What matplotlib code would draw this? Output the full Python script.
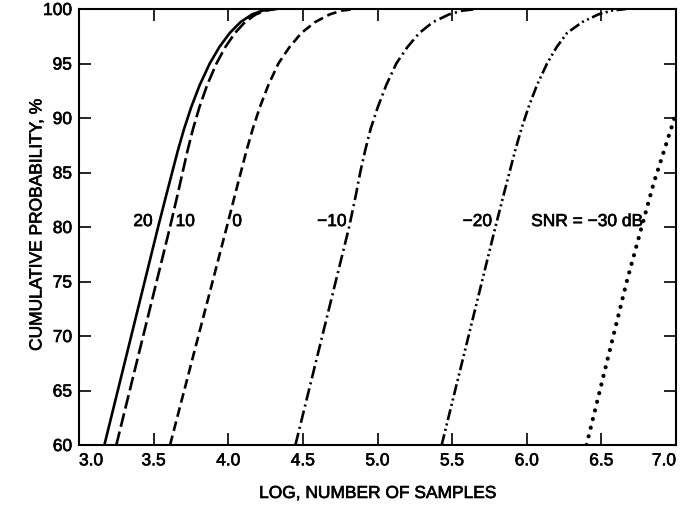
import numpy as np
import matplotlib
matplotlib.use('Agg')
import matplotlib.pyplot as plt
import matplotlib.patheffects as pe

# x = log(number of samples) where each curve crosses the y levels
prob = [60, 65, 70, 75, 80, 83, 85, 87, 89, 91, 93, 95, 96.5, 97.8, 98.8, 99.5, 99.85, 100]
snr_20 = [3.17, 3.26, 3.35, 3.44, 3.53, 3.586, 3.624, 3.662, 3.704, 3.752, 3.808, 3.876,
          3.94, 4.01, 4.082, 4.159, 4.229, 4.304]
snr_10 = [3.25, 3.34, 3.43, 3.52, 3.61, 3.661, 3.694, 3.727, 3.764, 3.807, 3.858, 3.921,
          3.98, 4.045, 4.112, 4.184, 4.249, 4.324]
snr_0 = [3.61, 3.705, 3.80, 3.895, 3.99, 4.046, 4.084, 4.122, 4.164, 4.212, 4.268, 4.336,
         4.41, 4.49, 4.582, 4.679, 4.759, 4.854]
snr_m10 = [4.45, 4.54, 4.63, 4.72, 4.81, 4.856, 4.884, 4.917, 4.954, 5.002, 5.058, 5.126,
           5.20, 5.28, 5.372, 5.479, 5.569, 5.664]
snr_m20 = [5.43, 5.52, 5.61, 5.70, 5.79, 5.846, 5.884, 5.922, 5.964, 6.012, 6.068, 6.136,
           6.20, 6.27, 6.372, 6.479, 6.569, 6.664]
prob_m30 = [60, 65, 70, 75, 80, 84, 87, 90]
snr_m30 = [6.40, 6.49, 6.58, 6.67, 6.77, 6.85, 6.92, 6.99]

xticks = [3.0, 3.5, 4.0, 4.5, 5.0, 5.5, 6.0, 6.5, 7.0]
yticks = [60, 65, 70, 75, 80, 85, 90, 95, 100]

plt.rcParams['font.family'] = ['Liberation Sans', 'DejaVu Sans']
plt.rcParams['lines.scale_dashes'] = False

fig = plt.figure(figsize=(6.8, 5.06), dpi=100)
ax = fig.add_axes([79/680, 60/506, 597/680, 436/506])

lw = 1.9
ax.plot(snr_20, prob, color='black', lw=lw, solid_capstyle='butt')
ax.plot(snr_10, prob, color='black', lw=lw, linestyle=(0, (10, 3.5)))
ax.plot(snr_0, prob, color='black', lw=lw, linestyle=(0, (7, 3.5)))
ax.plot(snr_m10, prob, color='black', lw=lw, linestyle=(0, (9, 3, 1.5, 3)))
ax.plot(snr_m20, prob, color='black', lw=lw, linestyle=(0, (8, 2.5, 1.5, 2.5, 1.5, 2.5)))
ax.plot(snr_m30, prob_m30, color='black', lw=3.0, linestyle=(0, (0.1, 6.3)),
        dash_capstyle='round')

# a thin stroke makes the type look like the medium weight of the scan
heavy = [pe.withStroke(linewidth=0.45, foreground='black')]

# curve labels
fs = 12.5
ax.text(3.493, 80.5, '20', ha='right', va='center', fontsize=fs, path_effects=heavy)
ax.text(3.647, 80.5, '10', ha='left', va='center', fontsize=fs, path_effects=heavy)
ax.text(4.027, 80.5, '0', ha='left', va='center', fontsize=fs, path_effects=heavy)
ax.text(4.793, 80.5, '\u221210', ha='right', va='center', fontsize=fs, path_effects=heavy)
ax.text(5.767, 80.5, '\u221220', ha='right', va='center', fontsize=fs, path_effects=heavy)
ax.text(6.78, 80.5, 'SNR = \u221230 dB', ha='right', va='center', fontsize=fs,
        path_effects=heavy)

ax.set_xlim(3.0, 7.0)
ax.set_ylim(60, 100)
ax.set_xticks(xticks)
ax.set_yticks(yticks)
ax.set_xticklabels(['%.1f' % v for v in xticks])
ax.set_yticklabels([str(v) for v in yticks])
ax.get_xticklabels()[0].set_ha('left')
ax.get_xticklabels()[-1].set_ha('right')
for t in ax.get_xticklabels() + ax.get_yticklabels():
    t.set_path_effects(heavy)

ax.tick_params(direction='in', length=8.5, width=1.2, top=True, right=True,
               labelsize=fs)
ax.tick_params(axis='x', pad=6)
ax.tick_params(axis='y', pad=5)
for s in ax.spines.values():
    s.set_linewidth(1.5)

ax.set_xlabel('LOG, NUMBER OF SAMPLES', fontsize=fs, path_effects=heavy)
ax.set_ylabel('CUMULATIVE PROBABILITY, %', fontsize=fs, path_effects=heavy)
ax.xaxis.set_label_coords(0.5, -0.094)
ax.yaxis.set_label_coords(-0.058, 0.505)

fig.savefig('out.png', dpi=100)
